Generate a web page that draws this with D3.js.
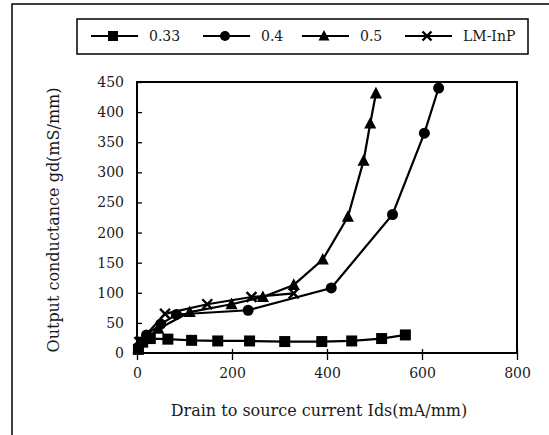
<!DOCTYPE html>
<html>
<head>
<meta charset="utf-8">
<script src="https://cdn.jsdelivr.net/npm/d3@7"></script>
<style>
  body { margin: 0; background: #fff; }
  svg { display: block; font-family: "DejaVu Serif", serif; }
</style>
</head>
<body>
<div id="chart"></div>
<script>
// values: [Ids mA/mm, gd mS/mm]
const s033 = [[3, 6], [12, 18], [28, 24], [65, 23], [115, 21], [170, 20], [237, 20], [311, 19], [389, 19], [452, 20], [515, 24], [565, 30]];
const s04 = [[3, 10], [20, 30], [50, 48], [83, 64], [234, 71], [409, 108], [538, 230], [605, 365], [635, 440]];
const s05 = [[3, 8], [22, 25], [45, 40], [111, 68], [199, 81], [265, 93], [330, 113], [391, 155], [444, 226], [477, 319], [491, 381], [503, 431]];
const sLM = [[5, 18], [59, 65], [148, 81], [241, 93], [330, 99]];

const seriesNames = ["0.33", "0.4", "0.5", "LM-InP"];
const seriesMarks = ["square", "circle", "triangle", "cross"];
const seriesData = [s033, s04, s05, sLM];

const xTicks = [0, 200, 400, 600, 800];
const yTicks = [0, 50, 100, 150, 200, 250, 300, 350, 400, 450];
const xTitle = "Drain to source current Ids(mA/mm)";
const yTitle = "Output conductance gd(mS/mm)";

const width = 549, height = 435;
const margin = { top: 82, right: 32, bottom: 82, left: 137 };
const innerW = width - margin.left - margin.right;
const innerH = height - margin.top - margin.bottom;
const ink = "#1a1a1a";

const svg = d3.select("#chart").append("svg")
  .attr("width", width).attr("height", height);

// outer frame (only left and top edges fall inside the view)
svg.append("rect")
  .attr("x", 12).attr("y", 4)
  .attr("width", 700).attr("height", 600)
  .attr("fill", "none").attr("stroke", "#000").attr("stroke-width", 1.5);

const g = svg.append("g").attr("transform", `translate(${margin.left},${margin.top})`);

const x = d3.scaleLinear().domain([0, 800]).range([0, innerW]);
const y = d3.scaleLinear().domain([0, 450]).range([innerH, 0]);

// plot frame
g.append("rect")
  .attr("width", innerW).attr("height", innerH)
  .attr("fill", "none").attr("stroke", "#000").attr("stroke-width", 2);

const xAxis = g.append("g")
  .attr("transform", `translate(0,${innerH})`)
  .call(d3.axisBottom(x).tickValues(xTicks).tickSize(7).tickPadding(8));
xAxis.selectAll(".tick line").attr("y1", -4).attr("stroke-width", 1.3);

const yAxis = g.append("g")
  .call(d3.axisLeft(y).tickValues(yTicks).tickSize(4).tickPadding(9));
yAxis.selectAll(".tick line").attr("x2", 5).attr("stroke-width", 1.3);

[xAxis, yAxis].forEach(a => {
  a.select(".domain").remove();
  a.selectAll("text").attr("font-size", 14).attr("font-family", "DejaVu Serif, serif").attr("fill", ink);
});

svg.append("text")
  .attr("x", 319).attr("y", 416)
  .attr("text-anchor", "middle").attr("font-size", 16).attr("fill", ink)
  .text(xTitle);

svg.append("text")
  .attr("transform", `translate(59,${220}) rotate(-90)`)
  .attr("text-anchor", "middle").attr("font-size", 16).attr("fill", ink)
  .text(yTitle);

function drawMarker(sel, type, size) {
  const s = size;
  if (type === "square") {
    sel.append("rect").attr("x", -s / 2).attr("y", -s / 2).attr("width", s).attr("height", s).attr("fill", "#000");
  } else if (type === "circle") {
    sel.append("circle").attr("r", s / 2).attr("fill", "#000");
  } else if (type === "triangle") {
    sel.append("path").attr("d", `M0,${-s * 0.6}L${s * 0.55},${s * 0.45}L${-s * 0.55},${s * 0.45}Z`).attr("fill", "#000");
  } else {
    const h = s * 0.45;
    sel.append("path").attr("d", `M${-h},${-h}L${h},${h}M${-h},${h}L${h},${-h}`)
      .attr("stroke", "#000").attr("stroke-width", 2.4);
  }
}

const line = d3.line().x(d => x(d[0])).y(d => y(d[1]));

seriesData.forEach((data, i) => {
  g.append("path").datum(data)
    .attr("d", line).attr("fill", "none")
    .attr("stroke", "#000").attr("stroke-width", 2.2);
  g.selectAll(null).data(data).enter().append("g")
    .attr("transform", d => `translate(${x(d[0])},${y(d[1])})`)
    .each(function () { drawMarker(d3.select(this), seriesMarks[i], 11); });
});

// legend
const legend = svg.append("g");
legend.append("rect")
  .attr("x", 77).attr("y", 19).attr("width", 451).attr("height", 35)
  .attr("fill", "#fff").attr("stroke", "#000").attr("stroke-width", 1.5);
const legendX = [91, 203, 302, 405];
seriesNames.forEach((name, i) => {
  const it = legend.append("g").attr("transform", `translate(${legendX[i]},36)`);
  it.append("line").attr("x1", 0).attr("x2", 47).attr("stroke", "#000").attr("stroke-width", 2.2);
  const m = it.append("g").attr("transform", "translate(22,0)");
  drawMarker(m, seriesMarks[i], 10);
  it.append("text").attr("x", 58).attr("y", 5).attr("font-size", 14).attr("fill", ink).text(name);
});
</script>
</body>
</html>
